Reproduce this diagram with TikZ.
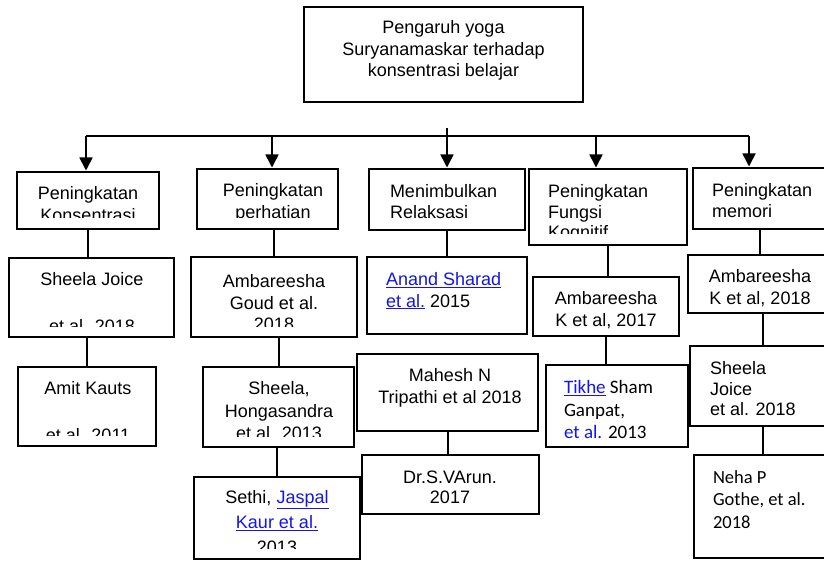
\documentclass[tikz,border=0pt]{standalone}
\usepackage{fontspec}
\setmainfont{Liberation Sans}
\newfontfamily\calibri{Carlito}
\usepackage{tikz}
\usetikzlibrary{arrows.meta,calc,positioning}
\definecolor{tautan}{RGB}{20,20,235}
\newcommand{\tautan}[1]{\textcolor{tautan}{\underline{#1}}}
\tikzset{
  kotak/.style={draw, line width=1.6pt, inner sep=0pt, outer sep=0pt, anchor=north west},
  tebal/.style={line width=2.8pt},
  teks/.style={inner sep=0pt, outer sep=0pt, font=\fontsize{18}{21.5}\selectfont},
  tengah/.style={teks, anchor=north, align=center},
  kiri/.style={teks, anchor=north west, align=left},
  rapat/.style={font=\fontsize{18}{20.5}\selectfont},
  longgar/.style={font=\fontsize{18}{22.5}\selectfont},
  renggang/.style={font=\fontsize{18}{25}\selectfont},
  huruf2/.style={font=\calibri\fontsize{#1}{22.5}\selectfont},
  garis/.style={line width=2pt},
  panah/.style={line width=1.6pt, shorten >=1.5pt, -{Triangle[length=13pt,width=13pt]}},
}
%teks yang terpotong di bagian bawah kotak
\newcommand{\potong}[1]{\clip (#1.north west) rectangle ([yshift=11pt]#1.south east);}
\begin{document}
\begin{tikzpicture}[x=1pt,y=-1pt]
%Ukuran dalam piksel gambar asli (824 x 561), sumbu y ke bawah
\pgfmathsetmacro{\yBatang}{136}
\useasboundingbox (0,0) rectangle (824,561);
\clip (0,0) rectangle (824,561);
%Judul
\node[kotak,tebal,minimum width=279pt,minimum height=95pt] (judul) at (304,7) {};
\node[tengah] (tjudul) at (443.5,20.5) {Pengaruh yoga\\Suryanamaskar terhadap\\konsentrasi belajar};
%Baris pertama
\node[kotak,tebal,minimum width=142pt,minimum height=57pt] (A) at (17,172) {};
\node[kotak,tebal,minimum width=141pt,minimum height=60pt] (B) at (197,169) {};
\node[kotak,tebal,minimum width=156pt,minimum height=61pt] (C) at (369,169) {};
\node[kotak,tebal,minimum width=158pt,minimum height=76pt] (D) at (529,169) {};
\node[kotak,tebal,minimum width=134pt,minimum height=61pt] (E) at (693,168) {};
\begin{scope}\potong{A}
\node[tengah] (tA) at (88,186.5) {Peningkatan\\Konsentrasi};
\end{scope}
\begin{scope}\potong{B}
\node[tengah] (tB) at (273,183.5) {Peningkatan\\perhatian};
\end{scope}
\node[kiri,rapat] (tC) at (390,184.5) {Menimbulkan\\Relaksasi};
\begin{scope}\potong{D}
\node[kiri,rapat] (tD) at (548,184.5) {Peningkatan\\Fungsi\\Kognitif};
\end{scope}
\node[kiri,rapat] (tE) at (712,183.5) {Peningkatan\\memori};
%Baris kedua
\node[kotak,minimum width=165pt,minimum height=79pt] (A2) at (9,258) {};
\node[kotak,minimum width=166pt,minimum height=80pt] (B2) at (191,257) {};
\node[kotak,minimum width=160pt,minimum height=77pt] (C2) at (367,257) {};
\node[kotak,minimum width=146pt,minimum height=59pt] (D2) at (533,277) {};
\node[kotak,minimum width=150pt,minimum height=58pt] (E2) at (688,255) {};
\begin{scope}\potong{A2}
\node[tengah] (tA2) at (92,272.5) {Sheela Joice\\[25pt]et al. 2018};
\end{scope}
\begin{scope}\potong{B2}
\node[tengah] (tB2) at (274,274.5) {Ambareesha\\Goud et al.\\2018};
\end{scope}
\node[kiri] (tC2) at (386,272.5) {\tautan{Anand Sharad}\\\tautan{et al.} 2015};
\node[tengah] (tD2) at (606,291.5) {Ambareesha\\K et al, 2017};
\node[tengah] (tE2) at (760,269.5) {Ambareesha\\K et al, 2018};
%Baris ketiga
\node[kotak,minimum width=138pt,minimum height=79pt] (A3) at (18,367) {};
\node[kotak,minimum width=151pt,minimum height=80pt] (B3) at (203,367) {};
\node[kotak,minimum width=181pt,minimum height=77pt] (C3) at (357,354) {};
\node[kotak,minimum width=142pt,minimum height=82pt] (D3) at (546,365) {};
\node[kotak,minimum width=146pt,minimum height=80pt] (E3) at (690,346) {};
\begin{scope}\potong{A3}
\node[tengah] (tA3) at (88,381.5) {Amit Kauts\\[25pt]et al. 2011};
\end{scope}
\begin{scope}\potong{B3}
\node[tengah,longgar] (tB3) at (279,381.5) {Sheela,\\Hongasandra\\et al. 2013};
\end{scope}
\node[tengah] (tC3) at (450,368.5) {Mahesh N\\Tripathi et al 2018};
\node[kiri,huruf2=19] (tD3) at (564,380.5) {\tautan{Tikhe} Sham\\Ganpat,\\\textcolor{tautan}{et al.} 2013};
\node[kiri,rapat] (tE3) at (710,361.5) {Sheela\\Joice\\et al. 2018};
%Baris keempat
\node[kotak,minimum width=166pt,minimum height=82pt] (B4) at (194,477) {};
\node[kotak,minimum width=177pt,minimum height=59pt] (C4) at (362,455) {};
\node[kotak,minimum width=140pt,minimum height=103pt] (E4) at (694,455) {};
\begin{scope}\potong{B4}
\node[tengah,renggang] (tB4) at (277,490.5) {Sethi, \tautan{Jaspal}\\\tautan{Kaur et al.}\\2013};
\end{scope}
\node[tengah,rapat] (tC4) at (450,470.5) {Dr.S.VArun.\\2017};
\node[kiri,huruf2=18.5] (tE4) at (713,470.5) {Neha P\\Gothe, et al.\\2018};
%Batang cabang dan panah
\coordinate (puncak) at (447,128);
\coordinate (bA) at (86,\yBatang);
\coordinate (bB) at (272,\yBatang);
\coordinate (bC) at (447,\yBatang);
\coordinate (bD) at (596,\yBatang);
\coordinate (bE) at (749,\yBatang);
\draw[line width=1.5pt] (bA) -- (bE);
\draw[panah] (puncak) -- (bC |- C.north);
\foreach \b/\k in {bA/A,bB/B,bD/D,bE/E}{
\draw[panah] (\b) -- (\b |- \k.north);
}
%Garis penghubung
\draw[garis] (A.south) -- (A.south |- A2.north);
\draw[garis] (A3.north |- A2.south) -- (A3.north);
\draw[garis] (B2.north |- B.south) -- (B2.north);
\draw[garis] (B3.north |- B2.south) -- (B3.north);
\draw[garis] (B4.north |- B3.south) -- (B4.north);
\draw[garis] (C.south) -- (C.south |- C2.north);
\draw[garis] (C3.south) -- (C3.south |- C4.north);
\draw[garis] (D.south) -- (D.south |- D2.north);
\draw[garis] (D2.south) -- (D2.south |- D3.north);
\draw[garis] (E.south) -- (E.south |- E2.north);
\draw[garis] (E2.south) -- (E2.south |- E3.north);
\draw[garis] (E3.south) -- (E3.south |- E4.north);
\end{tikzpicture}
\end{document}
